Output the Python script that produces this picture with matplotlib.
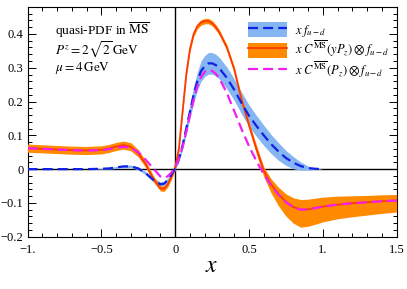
import matplotlib
matplotlib.use("Agg")
import matplotlib.pyplot as plt
from matplotlib.patches import Patch
from matplotlib.lines import Line2D
from matplotlib.ticker import MultipleLocator

plt.rcParams["font.family"] = ["Liberation Serif", "DejaVu Serif"]
plt.rcParams["mathtext.fontset"] = "stix"

# x grid
X = [-1.0, -0.9, -0.8, -0.7, -0.6, -0.5, -0.45, -0.4, -0.35, -0.3, -0.25, -0.2,
     -0.15, -0.1, -0.075, -0.05, -0.025, 0.0, 0.025, 0.05, 0.075, 0.1, 0.125,
     0.15, 0.175, 0.2, 0.225, 0.25, 0.275, 0.3, 0.35, 0.4, 0.45, 0.5, 0.55, 0.6,
     0.65, 0.7, 0.75, 0.8, 0.85, 0.9, 0.95, 1.0, 1.1, 1.2, 1.3, 1.4, 1.5]

# x f_{u-d} (defined up to x = 1)
BLUE = [0.0, 0.0, 0.0, 0.0, 0.0, 0.001, 0.002, 0.005, 0.008, 0.008, 0.002, -0.012,
        -0.031, -0.045, -0.043, -0.032, -0.016, 0.002, 0.03, 0.07, 0.12, 0.17, 0.22,
        0.26, 0.29, 0.305, 0.313, 0.313, 0.308, 0.298, 0.27, 0.235, 0.195, 0.158,
        0.128, 0.1, 0.074, 0.052, 0.033, 0.019, 0.009, 0.003, 0.001, 0.0]
BLUE_ERR = [0.0, 0.0, 0.0, 0.0, 0.0, 0.001, 0.002, 0.003, 0.004, 0.004, 0.004, 0.005,
            0.006, 0.007, 0.007, 0.006, 0.005, 0.005, 0.008, 0.012, 0.016, 0.02, 0.024,
            0.027, 0.03, 0.031, 0.032, 0.032, 0.032, 0.032, 0.032, 0.032, 0.032, 0.032,
            0.031, 0.03, 0.028, 0.026, 0.022, 0.018, 0.012, 0.006, 0.002, 0.0]

# x C(yPz) (x) f_{u-d}
ORANGE = [0.062, 0.060, 0.058, 0.056, 0.055, 0.057, 0.061, 0.067, 0.071, 0.066, 0.047,
          0.015, -0.027, -0.057, -0.058, -0.045, -0.022, 0.005, 0.06, 0.17, 0.28, 0.355,
          0.40, 0.423, 0.434, 0.438, 0.438, 0.432, 0.42, 0.404, 0.36, 0.295, 0.205, 0.13,
          0.06, -0.005, -0.045, -0.074, -0.097, -0.112, -0.12, -0.119, -0.115, -0.111,
          -0.105, -0.101, -0.098, -0.095, -0.093]
ORANGE_UP = [0.012, 0.012, 0.012, 0.012, 0.012, 0.012, 0.012, 0.012, 0.012, 0.012, 0.011,
             0.01, 0.009, 0.008, 0.008, 0.008, 0.008, 0.008, 0.008, 0.008, 0.008, 0.008,
             0.008, 0.008, 0.008, 0.008, 0.008, 0.008, 0.008, 0.008, 0.008, 0.009, 0.009,
             0.01, 0.011, 0.012, 0.016, 0.02, 0.024, 0.027, 0.03, 0.03, 0.029, 0.028,
             0.025, 0.022, 0.02, 0.019, 0.018]
ORANGE_DN = [0.012, 0.012, 0.012, 0.012, 0.012, 0.012, 0.012, 0.012, 0.012, 0.012, 0.011,
             0.01, 0.009, 0.008, 0.008, 0.008, 0.008, 0.008, 0.008, 0.008, 0.008, 0.008,
             0.008, 0.008, 0.008, 0.008, 0.008, 0.008, 0.008, 0.008, 0.008, 0.009, 0.01,
             0.012, 0.014, 0.018, 0.026, 0.035, 0.042, 0.048, 0.052, 0.05, 0.048, 0.045,
             0.042, 0.04, 0.038, 0.036, 0.034]

# x C(Pz) (x) f_{u-d}
MAGENTA = [0.062, 0.060, 0.058, 0.056, 0.055, 0.056, 0.059, 0.063, 0.066, 0.063, 0.05,
           0.028, 0.003, -0.022, -0.026, -0.021, -0.01, 0.005, 0.03, 0.065, 0.11, 0.16,
           0.205, 0.245, 0.272, 0.288, 0.294, 0.291, 0.282, 0.268, 0.225, 0.172, 0.118,
           0.068, 0.024, -0.015, -0.048, -0.076, -0.098, -0.113, -0.12, -0.119, -0.115,
           -0.111, -0.105, -0.101, -0.098, -0.095, -0.093]

X_TICKS = [-1.0, -0.5, 0.0, 0.5, 1.0, 1.5]
X_TICK_LABELS = ["\u22121.", "\u22120.5", "0", "0.5", "1.", "1.5"]
Y_TICKS = [-0.2, -0.1, 0.0, 0.1, 0.2, 0.3, 0.4]
Y_TICK_LABELS = ["\u22120.2", "\u22120.1", "0", "0.1", "0.2", "0.3", "0.4"]

C_BLUE_BAND = "#85b6f2"
C_BLUE = "#1020e6"
C_ORANGE_BAND = "#ff8a00"
C_RED = "#ff3a00"
C_MAGENTA = "#f21ef2"


def main():
    fig = plt.figure(figsize=(4.07, 2.89), dpi=100)
    ax = fig.add_axes([0.0676, 0.181, 0.907, 0.795])

    nb = len(BLUE)
    xb = X[:nb]
    ax.fill_between(xb, [b - e for b, e in zip(BLUE, BLUE_ERR)],
                    [b + e for b, e in zip(BLUE, BLUE_ERR)],
                    color=C_BLUE_BAND, lw=0, zorder=2)
    ax.fill_between(X, [o - d for o, d in zip(ORANGE, ORANGE_DN)],
                    [o + u for o, u in zip(ORANGE, ORANGE_UP)],
                    color=C_ORANGE_BAND, lw=0, zorder=3)
    ax.plot(X, ORANGE, color=C_RED, lw=1.3, zorder=4)
    ax.plot(xb, BLUE, color=C_BLUE, lw=1.6, dashes=(4.5, 2.3), zorder=5)
    ax.plot(X, MAGENTA, color=C_MAGENTA, lw=1.6, dashes=(4.5, 2.3), zorder=6)

    ax.axhline(0, color="black", lw=1.0, zorder=1)
    ax.axvline(0, color="black", lw=1.0, zorder=1)

    ax.set_xlim(-1.0, 1.5)
    ax.set_ylim(-0.2, 0.48)
    ax.set_xticks(X_TICKS, X_TICK_LABELS)
    ax.set_yticks(Y_TICKS, Y_TICK_LABELS)
    ax.xaxis.set_minor_locator(MultipleLocator(0.1))
    ax.yaxis.set_minor_locator(MultipleLocator(0.02))
    ax.tick_params(which="both", direction="in", top=True, right=True, labelsize=9,
                   width=0.7, colors="black")
    ax.tick_params(which="major", length=5.5)
    ax.tick_params(which="minor", length=3)
    ax.tick_params(axis="x", pad=5)
    ax.tick_params(axis="y", pad=3)
    for s in ax.spines.values():
        s.set_linewidth(0.8)

    ax.set_xlabel("$x$", fontsize=17, labelpad=0)

    ax.text(0.075, 0.90, r"quasi-PDF in $\overline{\mathrm{MS}}$", transform=ax.transAxes,
            fontsize=9.5, va="center")
    ax.text(0.075, 0.815, r"$P^z = 2\sqrt{2}\,\mathrm{GeV}$", transform=ax.transAxes,
            fontsize=9.5, va="center")
    ax.text(0.075, 0.735, r"$\mu = 4\,\mathrm{GeV}$", transform=ax.transAxes,
            fontsize=9.5, va="center")

    handles = [
        (Patch(facecolor=C_BLUE_BAND, lw=0), Line2D([], [], color=C_BLUE, lw=1.6, dashes=(4.5, 2.3))),
        (Patch(facecolor=C_ORANGE_BAND, lw=0), Line2D([], [], color=C_RED, lw=1.3)),
        Line2D([], [], color=C_MAGENTA, lw=1.6, dashes=(4.5, 2.3)),
    ]
    labels = [
        r"$x\; f_{u-d}$",
        r"$x\; C^{\overline{\mathrm{MS}}}(yP_z)\otimes f_{u-d}$",
        r"$x\; C^{\overline{\mathrm{MS}}}(P_z)\otimes f_{u-d}$",
    ]
    ax.legend(handles, labels, loc="upper left", bbox_to_anchor=(0.597, 0.935),
              frameon=False, fontsize=9, handlelength=3.1, handleheight=1.5,
              labelspacing=0.05, handletextpad=0.7, borderpad=0, borderaxespad=0)

    fig.savefig("out.png", dpi=100)
    plt.close(fig)


if __name__ == "__main__":
    main()
